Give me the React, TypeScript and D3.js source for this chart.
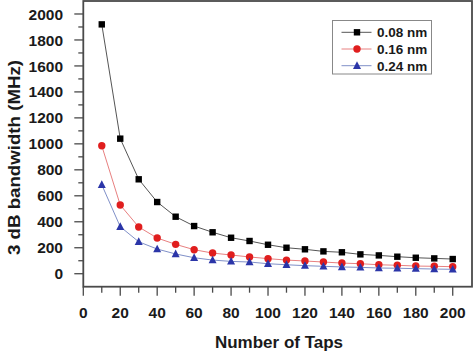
import { useEffect, useRef } from "react";
import * as d3 from "d3";

const TAPS = [10, 20, 30, 40, 50, 60, 70, 80, 90, 100, 110, 120, 130, 140, 150, 160, 170, 180, 190, 200];
const BW_008 = [1920, 1040, 727, 552, 439, 367, 319, 277, 252, 223, 200, 188, 172, 165, 149, 141, 131, 123, 118, 113];
const BW_016 = [985, 529, 360, 275, 226, 185, 159, 144, 129, 116, 105, 98, 90, 82, 77, 69, 65, 59, 57, 54];
const BW_024 = [685, 362, 246, 190, 152, 123, 105, 95, 90, 77, 69, 62, 57, 52, 49, 44, 42, 39, 36, 34];
const SERIES_NAMES = ["0.08 nm", "0.16 nm", "0.24 nm"];
const X_TICKS = [0, 20, 40, 60, 80, 100, 120, 140, 160, 180, 200];
const Y_TICKS = [0, 200, 400, 600, 800, 1000, 1200, 1400, 1600, 1800, 2000];

const W = 474;
const H = 354;
const plot = { left: 83.3, right: 472, top: 1, bottom: 286.7 };
const FONT = "'Liberation Sans', Arial, sans-serif";
const AXIS = "#4a4a4a";

const STYLES = [
  { line: "#555555", fill: "#000000", shape: "square" },
  { line: "#e88080", fill: "#e01e1e", shape: "circle" },
  { line: "#8090c8", fill: "#2b35a8", shape: "triangle" },
];

export default function App() {
  const svgRef = useRef<SVGSVGElement>(null);

  useEffect(() => {
    if (!svgRef.current) return;
    const svg = d3.select(svgRef.current);
    svg.selectAll("*").remove();

    const x = d3.scaleLinear().domain([0, 210]).range([plot.left, plot.right - 0.8]);
    const y = d3.scaleLinear().domain([-100, 2100]).range([plot.bottom, plot.top]);

    // frame
    svg.append("rect")
      .attr("x", plot.left).attr("y", plot.top)
      .attr("width", plot.right - plot.left).attr("height", plot.bottom - plot.top)
      .attr("fill", "#fff").attr("stroke", AXIS).attr("stroke-width", 1.8);

    // y axis ticks
    const yMinor = d3.range(100, 2100, 200);
    svg.append("g").selectAll("line.ymaj").data(Y_TICKS).join("line")
      .attr("x1", plot.left - 9).attr("x2", plot.left)
      .attr("y1", (d) => y(d)).attr("y2", (d) => y(d))
      .attr("stroke", AXIS).attr("stroke-width", 1.3);
    svg.append("g").selectAll("line.ymin").data(yMinor).join("line")
      .attr("x1", plot.left - 5).attr("x2", plot.left)
      .attr("y1", (d) => y(d)).attr("y2", (d) => y(d))
      .attr("stroke", AXIS).attr("stroke-width", 1.3);
    svg.append("g").selectAll("text").data(Y_TICKS).join("text")
      .attr("x", 63).attr("y", (d) => y(d)).attr("dy", "0.36em")
      .attr("text-anchor", "end").attr("font-family", FONT)
      .attr("font-weight", "bold").attr("font-size", 15.5).attr("fill", "#1a1a1a")
      .text((d) => d);

    // x axis ticks
    const xMinor = d3.range(10, 210, 20);
    svg.append("g").selectAll("line.xmaj").data(X_TICKS).join("line")
      .attr("x1", (d) => x(d)).attr("x2", (d) => x(d))
      .attr("y1", plot.bottom).attr("y2", plot.bottom + 9)
      .attr("stroke", AXIS).attr("stroke-width", 1.3);
    svg.append("g").selectAll("line.xmin").data(xMinor).join("line")
      .attr("x1", (d) => x(d)).attr("x2", (d) => x(d))
      .attr("y1", plot.bottom).attr("y2", plot.bottom + 6)
      .attr("stroke", AXIS).attr("stroke-width", 1.3);
    svg.append("g").selectAll("text").data(X_TICKS).join("text")
      .attr("x", (d) => x(d)).attr("y", 318)
      .attr("text-anchor", "middle").attr("font-family", FONT)
      .attr("font-weight", "bold").attr("font-size", 15.5).attr("fill", "#1a1a1a")
      .text((d) => d);

    // axis titles
    svg.append("text")
      .attr("x", 279).attr("y", 348)
      .attr("text-anchor", "middle").attr("font-family", FONT)
      .attr("font-weight", "bold").attr("font-size", 17).attr("fill", "#1a1a1a")
      .text("Number of Taps");
    svg.append("text")
      .attr("transform", `translate(20,157.5) rotate(-90)`)
      .attr("text-anchor", "middle").attr("font-family", FONT)
      .attr("font-weight", "bold").attr("font-size", 17).attr("fill", "#1a1a1a")
      .attr("textLength", 195).attr("lengthAdjust", "spacingAndGlyphs")
      .text("3 dB bandwidth (MHz)");

    const drawMarker = (g: d3.Selection<SVGGElement, unknown, null, undefined>, shape: string, cx: number, cy: number, fill: string) => {
      if (shape === "square") {
        g.append("rect").attr("x", cx - 3.2).attr("y", cy - 3.2).attr("width", 6.4).attr("height", 6.4).attr("fill", fill);
      } else if (shape === "circle") {
        g.append("circle").attr("cx", cx).attr("cy", cy).attr("r", 3.7).attr("fill", fill);
      } else {
        const s = 8;
        g.append("path")
          .attr("d", `M${cx},${cy - s * 0.55}L${cx + s / 2},${cy + s * 0.4}L${cx - s / 2},${cy + s * 0.4}Z`)
          .attr("fill", fill);
      }
    };

    // series
    const series = [BW_008, BW_016, BW_024];
    const line = d3.line<[number, number]>().x((d) => x(d[0])).y((d) => y(d[1]));
    series.forEach((vals, i) => {
      const pts = TAPS.map((t, j) => [t, vals[j]] as [number, number]);
      const g = svg.append("g");
      g.append("path").attr("d", line(pts)).attr("fill", "none")
        .attr("stroke", STYLES[i].line).attr("stroke-width", 1);
      pts.forEach((p) => drawMarker(g, STYLES[i].shape, x(p[0]), y(p[1]), STYLES[i].fill));
    });

    // legend
    const lg = svg.append("g");
    lg.append("rect").attr("x", 332.5).attr("y", 20.5).attr("width", 99).attr("height", 53.5)
      .attr("fill", "#fff").attr("stroke", "#888").attr("stroke-width", 1);
    SERIES_NAMES.forEach((name, i) => {
      const cy = 32.3 + i * 16.7;
      lg.append("line").attr("x1", 341.5).attr("x2", 371.5).attr("y1", cy).attr("y2", cy)
        .attr("stroke", STYLES[i].line).attr("stroke-width", 1);
      drawMarker(lg as any, STYLES[i].shape, 357, cy, STYLES[i].fill);
      lg.append("text").attr("x", 377).attr("y", cy).attr("dy", "0.36em")
        .attr("font-family", FONT).attr("font-weight", "bold").attr("font-size", 13.5)
        .attr("fill", "#1a1a1a").text(name);
    });
  }, []);

  return (
    <svg ref={svgRef} width={W} height={H}
      style={{ position: "fixed", left: 0, top: 0, background: "#fff" }} />
  );
}
